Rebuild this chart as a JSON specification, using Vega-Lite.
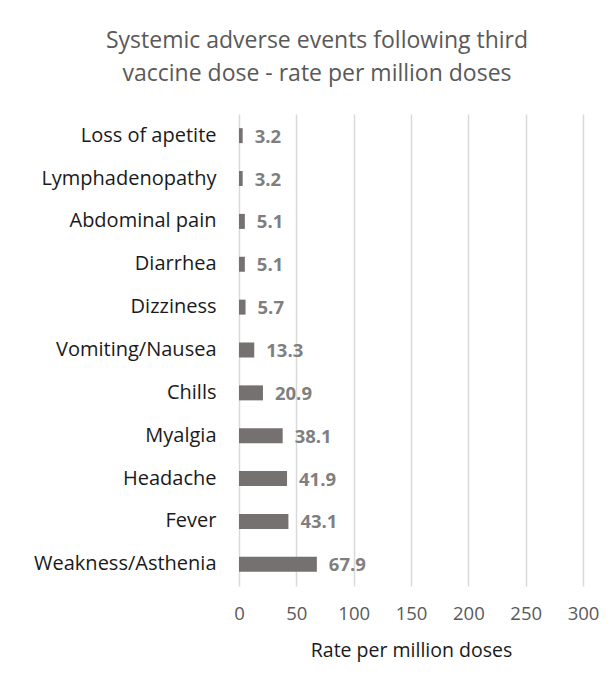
{
  "$schema": "https://vega.github.io/schema/vega-lite/v6.json",
  "width": 344,
  "height": 472,
  "autosize": {"type": "none"},
  "padding": {"left": 239, "top": 114, "right": 27, "bottom": 100},
  "background": "white",
  "title": {
    "text": ["Systemic adverse events following third", "vaccine dose - rate per million doses"],
    "anchor": "middle",
    "frame": "group",
    "dx": -94,
    "offset": 28,
    "font": "Open Sans",
    "fontSize": 23,
    "fontWeight": "normal",
    "color": "#595959",
    "lineHeight": 33
  },
  "data": {
    "values": [
      {"event": "Loss of apetite", "rate": 3.2},
      {"event": "Lymphadenopathy", "rate": 3.2},
      {"event": "Abdominal pain", "rate": 5.1},
      {"event": "Diarrhea", "rate": 5.1},
      {"event": "Dizziness", "rate": 5.7},
      {"event": "Vomiting/Nausea", "rate": 13.3},
      {"event": "Chills", "rate": 20.9},
      {"event": "Myalgia", "rate": 38.1},
      {"event": "Headache", "rate": 41.9},
      {"event": "Fever", "rate": 43.1},
      {"event": "Weakness/Asthenia", "rate": 67.9}
    ]
  },
  "encoding": {
    "y": {
      "field": "event",
      "type": "nominal",
      "sort": null,
      "scale": {"paddingInner": 0.65, "paddingOuter": 0.33},
      "axis": {
        "title": null,
        "ticks": false,
        "domain": false,
        "labelPadding": 23,
        "labelLimit": 400,
        "labelFont": "Open Sans",
        "labelFontSize": 20,
        "labelColor": "#1a1a1a"
      }
    },
    "x": {
      "field": "rate",
      "type": "quantitative",
      "scale": {"domain": [0, 300], "nice": false},
      "axis": {
        "values": [0, 50, 100, 150, 200, 250, 300],
        "title": "Rate per million doses",
        "titleFont": "Open Sans",
        "titleFontSize": 19.5,
        "titleFontWeight": "normal",
        "titleColor": "#1a1a1a",
        "titlePadding": 19,
        "labelFont": "Open Sans",
        "labelFontSize": 18.5,
        "labelColor": "#595959",
        "labelPadding": 18,
        "labelFlush": false,
        "labelOverlap": false,
        "ticks": false,
        "domain": false,
        "grid": true,
        "gridColor": "#d9d9d9",
        "gridWidth": 1.5
      }
    }
  },
  "layer": [
    {"mark": {"type": "bar", "color": "#767171"}},
    {
      "mark": {
        "type": "text",
        "align": "left",
        "dx": 12,
        "dy": 1,
        "font": "Open Sans",
        "fontSize": 18.5,
        "fontWeight": "bold",
        "color": "#7f7f7f"
      },
      "encoding": {"text": {"field": "rate", "type": "quantitative", "format": ".1f"}}
    }
  ],
  "config": {"view": {"stroke": null}}
}
